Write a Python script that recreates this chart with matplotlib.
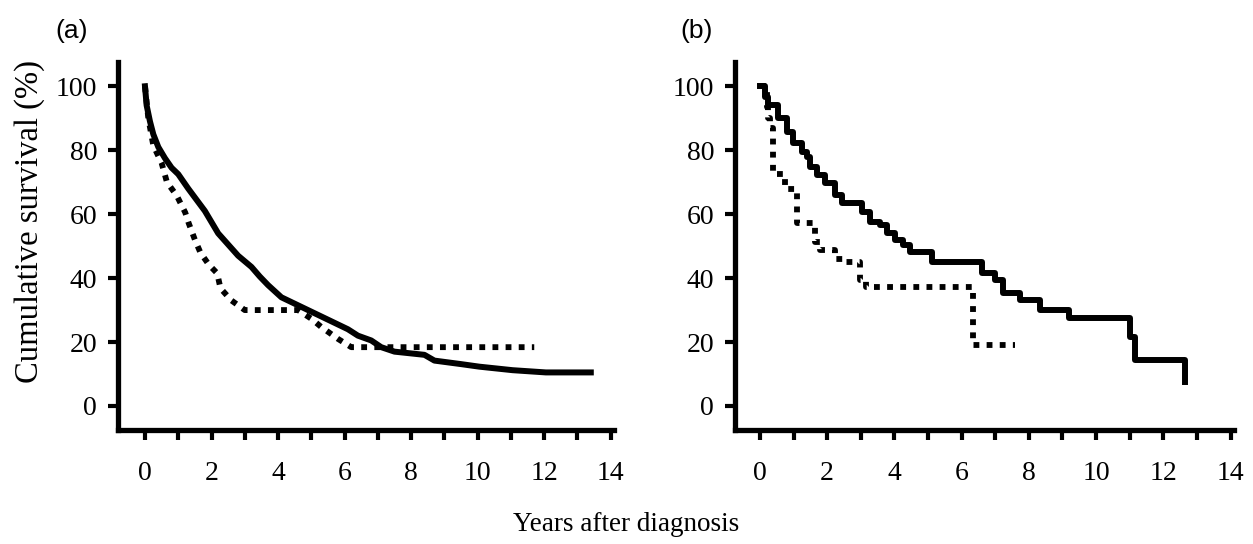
import matplotlib
matplotlib.use('Agg')
import matplotlib.pyplot as plt
import numpy as np

#%% data (years, cumulative survival %)
# panel (a): many deaths, curve is almost smooth -> drawn through read points
a_solid_t = [0, 0.05, 0.15, 0.25, 0.4, 0.6, 0.8, 1.0, 1.3, 1.55, 1.8, 2.0, 2.2, 2.5,
             2.8, 3.2, 3.45, 3.7, 4.1, 4.5, 4.9, 5.3, 5.7, 6.1, 6.4, 6.8, 7.1, 7.5,
             8.4, 8.7, 9.5, 10.05, 11.05, 12.05, 13.4]
a_solid_s = [100, 94, 89, 85, 81, 77.5, 74.5, 72.5, 68, 64.5, 61, 57.5, 54, 50.5,
             47, 43.5, 40.5, 37.8, 34, 32, 30, 28, 26, 24, 22, 20.5, 18.4, 17,
             16, 14.2, 13.1, 12.3, 11.2, 10.5, 10.5]

a_dot_t = [0, 0.1, 0.25, 0.5, 0.66, 0.96, 1.21, 1.31, 1.5, 1.67, 1.92, 2.17, 2.27,
           2.6, 3.0, 4.6, 5.0, 5.3, 5.8, 6.2, 11.7]
a_dot_s = [100, 90, 81.5, 76, 70, 65.7, 60.5, 57.3, 52, 47.9, 44.2, 41.5, 36.8,
           33, 30, 30, 27.3, 24.7, 21, 18.4, 18.4]

# panel (b): fewer patients, clear Kaplan-Meier steps
b_solid_t = [0, 0.15, 0.25, 0.55, 0.8, 0.99, 1.24, 1.39, 1.49, 1.69, 1.93, 2.23,
             2.43, 3.03, 3.27, 3.57, 3.77, 4.02, 4.27, 4.46, 5.11, 6.62, 7.0, 7.24,
             7.74, 8.33, 9.18, 11.0, 11.16, 12.65, 12.65]
b_solid_s = [100, 96.7, 94, 90, 85.7, 82.1, 79.5, 77.9, 74.8, 72.2, 69.6, 65.9,
             63.4, 60.7, 57.6, 56.6, 54, 51.9, 50.3, 48.2, 45.1, 41.5, 39.4, 35.2,
             33.1, 30, 27.4, 21.7, 14.4, 14.4, 7.6]

b_dot_t = [0, 0.2, 0.25, 0.3, 0.4, 0.69, 0.74, 1.09, 1.44, 1.64, 1.79, 2.23,
           2.48, 2.98, 3.17, 6.35, 7.6]
b_dot_s = [100, 93.5, 90, 86.8, 72.7, 71.2, 68, 57.1, 57.1, 51.3, 48.8, 46.1,
           45.1, 39.4, 37.3, 19.1, 19.1]

panels = ['(a)', '(b)']
y_ticks = [0, 20, 40, 60, 80, 100]
x_major = [0, 2, 4, 6, 8, 10, 12, 14]
x_minor = [1, 3, 5, 7, 9, 11, 13]

#%% figure
serif = ['Liberation Serif', 'DejaVu Serif']
dots = (0, (1, 1.25))
fig = plt.figure(figsize=(12.53, 5.44), dpi=100)
ax_a = fig.add_axes([0.0942, 0.2096, 0.3959, 0.6765])
ax_b = fig.add_axes([0.5866, 0.2096, 0.3982, 0.6765])

ax_a.plot(a_dot_t, a_dot_s, color='black', lw=4.2, linestyle=dots, dash_capstyle='butt')
ax_a.plot(a_solid_t, a_solid_s, color='black', lw=4.3)
ax_b.step(b_dot_t, b_dot_s, where='post', color='black', lw=4.2,
          linestyle=dots, dash_capstyle='butt')
ax_b.step(b_solid_t, b_solid_s, where='post', color='black', lw=4.3)

for ax, x0 in [(ax_a, -0.81), (ax_b, -0.74)]:
    ax.set_xlim(x0, 14.1)
    ax.set_ylim(-7.5, 107.6)
    for side in ['top', 'right']:
        ax.spines[side].set_visible(False)
    for side in ['left', 'bottom']:
        ax.spines[side].set_linewidth(3.8)
    ax.set_xticks(x_major)
    ax.set_xticks(x_minor, minor=True)
    ax.set_yticks(y_ticks)
    ax.tick_params(which='both', direction='out', length=7, width=3, pad=8)
    ax.tick_params(axis='x', pad=15)
    for lab in ax.get_xticklabels() + ax.get_yticklabels():
        lab.set_family(serif)
        lab.set_fontsize(20)

fig.text(0.044, 0.943, panels[0], fontsize=19, family='Liberation Sans', va='center')
fig.text(0.543, 0.943, panels[1], fontsize=19, family='Liberation Sans', va='center')
fig.text(0.024, 0.592, 'Cumulative survival (%)', rotation=90, fontsize=23.5,
         family=serif, va='center', ha='center')
fig.text(0.5, 0.035, 'Years after diagnosis', fontsize=19.5, family=serif,
         ha='center', va='center')

fig.savefig('out.png', dpi=100)
